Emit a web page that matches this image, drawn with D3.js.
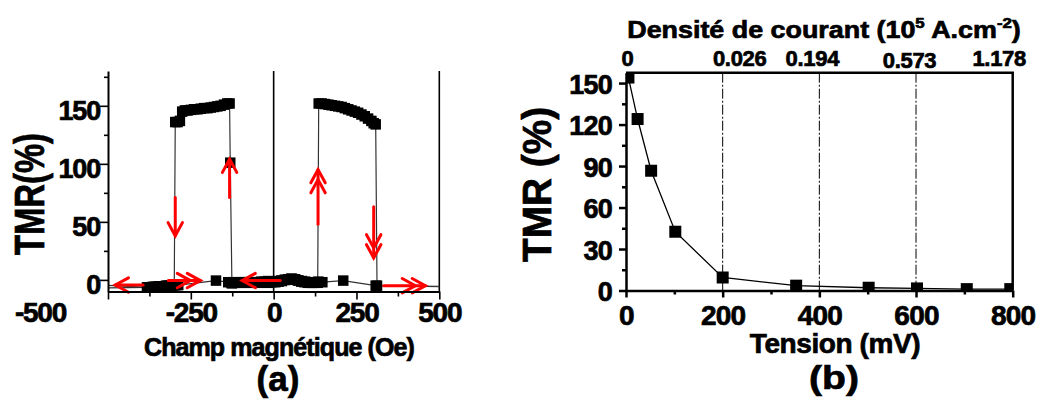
<!DOCTYPE html>
<html><head><meta charset="utf-8">
<script src="https://cdn.jsdelivr.net/npm/d3@7"></script>
<style>
html,body{margin:0;padding:0;background:#fff;}
svg text{font-family:"Liberation Sans",Arial,sans-serif;font-weight:bold;fill:#000;stroke:#000;stroke-width:0.7px;}
</style></head><body>
<svg id="c" width="1055" height="409"></svg>
<script>
// ---------- Panel (a) data: TMR vs magnetic field (hysteresis loop) ----------
// decreasing-field sweep (from +500 Oe to -500 Oe)
const fieldDown = [520, 308, 210, 147, 135, 125, 115, 105, 95, 85, 75, 65, 55, 45, 35, 25, 15, 5, -5, -15, -25, -35, -45, -55, -65, -75, -85, -95, -105, -115, -126,
  -131,
  -133, -140, -150, -160, -170, -180, -190, -200, -210, -220, -230, -240, -250, -260, -268, -276, -283, -290, -297,
  -300, -310, -320, -330, -340, -350, -360, -370, -382, -520];
const tmrDown = [-5.5, -5, -0.6, -2, -1.5, -2, -2.5, -2, -1.5, -1, -0.5, 0.5, 1, 0.5, 0, -1, -1.5, -2, -2, -2.5, -2, -2, -2.5, -2, -2, -2.5, -2, -2, -2.5, -2.5, -3,
  101,
  152, 152, 151, 150, 149.5, 149, 148.5, 148, 148, 147.5, 147, 147, 146.5, 146, 146, 145, 137, 136, 136,
  -4.5, -5, -5, -5.5, -5.5, -6, -6, -6.5, -6.5, -4.5];
// increasing-field sweep (from -500 Oe to +500 Oe)
const fieldUp = [-520, -382, -375, -365, -355, -345, -335, -325, -315, -305, -295, -288,
  -174,
  -137, -127, -117, -107, -97, -87, -77, -67, -57, -47, -37, -27, -17, -7, 3, 13, 23, 33, 43, 53, 63, 73, 83, 93, 103, 113, 123, 133,
  136, 145, 155, 165, 175, 185, 195, 205, 215, 225, 235, 245, 255, 265, 275, 285, 295, 302, 308,
  312, 520];
const tmrUp = [-7, -6.5, -6.5, -6, -6, -5.5, -5.5, -5, -5, -5, -4.5, -4.5,
  -0.6,
  -2, -2.5, -2, -2, -2.5, -2, -2, -2.5, -2, -2, -1.5, -1.5, -1, -1.5, -1.5, -1, -0.5, 0, 0.5, 1, 0.5, -0.5, -1.5, -2, -2.5, -2.5, -2.5, -2.5,
  152, 152, 151.5, 151, 150.5, 150, 149.5, 149, 148, 147, 146, 145, 144, 142.5, 141, 139, 137, 135, 134,
  -5, -6];
const fieldTicks = [-500, -250, 0, 250, 500];
const fieldMinorTicks = [-375, -125, 125, 375];
const tmrTicksA = [0, 50, 100, 150];
const tmrMinorTicksA = [25, 75, 125, 175];
// sweep-direction arrows: [x1, y1, x2 (head), y2 (head), number of heads]
const arrowsA = [
  [-394, -4.4, -478, -4.4, 1],
  [-318, -0.6, -221, -0.6, 2],
  [20, -0.6, -95, -0.6, 1],
  [332, -5, 458, -5, 2],
  [-297, 71, -297, 38, 1],
  [-133, 71, -133, 104, 1],
  [134, 48, 134, 95, 2],
  [302, 63, 302, 19, 2]
];

// ---------- Panel (b) data: TMR vs bias voltage ----------
const voltage = [5, 24, 52, 102, 200, 352, 502, 602, 705, 795];
const tmrB = [154, 124, 86.6, 42.5, 9.4, 3.5, 2, 1.5, 1, 1];
const voltTicks = [0, 200, 400, 600, 800];
const voltMinorTicks = [100, 300, 500, 700];
const tmrTicksB = [0, 30, 60, 90, 120, 150];
const tmrMinorTicksB = [15, 45, 75, 105, 135];
const densityAt = [0, 200, 400, 600, 800];
const densityLabels = ["0", "0.026", "0.194", "0.573", "1.178"];
const densityNudge = [1.5, 17, -7, -6.5, -13.5];
const guideVolts = [200, 400, 600];

const svg = d3.select("#c");

// ================= Panel (a) =================
const xA = d3.scaleLinear().domain([-500, 500]).range([108, 439.3]);
const yA = d3.scaleLinear().domain([-10, 180]).range([291.5, 71]);

svg.append("clipPath").attr("id", "clipA").append("rect")
  .attr("x", xA(-500)).attr("y", yA(180)).attr("width", xA(500) - xA(-500)).attr("height", yA(-10) - yA(180));

const gA = svg.append("g");
gA.append("line").attr("x1", xA(0)).attr("x2", xA(0)).attr("y1", yA(180)).attr("y2", yA(-10))
  .attr("stroke", "#000").attr("stroke-width", 1.6);
gA.append("line").attr("x1", xA(500)).attr("x2", xA(500)).attr("y1", yA(180)).attr("y2", yA(-10))
  .attr("stroke", "#000").attr("stroke-width", 1.6);

const plotA = gA.append("g").attr("clip-path", "url(#clipA)");
const lineA = d3.line().x(d => xA(d[0])).y(d => yA(d[1]));
const downPts = fieldDown.map((f, i) => [f, tmrDown[i]]);
const upPts = fieldUp.map((f, i) => [f, tmrUp[i]]);
[downPts, upPts].forEach(pts => {
  plotA.append("path").attr("d", lineA(pts)).attr("fill", "none").attr("stroke", "#333").attr("stroke-width", 1.2);
});
const sqA = 10.5;
[downPts, upPts].forEach(pts => {
  plotA.selectAll(null).data(pts).enter().append("rect")
    .attr("x", d => xA(d[0]) - sqA / 2).attr("y", d => yA(d[1]) - sqA / 2)
    .attr("width", sqA).attr("height", sqA).attr("fill", "#000");
});

const arrowG = gA.append("g").attr("stroke", "#ff0000").attr("stroke-width", 3).attr("fill", "none").attr("stroke-linecap", "round");
arrowsA.forEach(a => {
  const x1 = xA(a[0]), y1 = yA(a[1]), x2 = xA(a[2]), y2 = yA(a[3]);
  arrowG.append("line").attr("x1", x1).attr("y1", y1).attr("x2", x2).attr("y2", y2);
  const ang = Math.atan2(y2 - y1, x2 - x1);
  const L = 15, W = 0.5;
  for (let k = 0; k < a[4]; k++) {
    const tx = x2 - Math.cos(ang) * 10 * k, ty = y2 - Math.sin(ang) * 10 * k;
    const p1 = [tx - L * Math.cos(ang - W), ty - L * Math.sin(ang - W)];
    const p2 = [tx - L * Math.cos(ang + W), ty - L * Math.sin(ang + W)];
    arrowG.append("path").attr("d", `M${p1[0]},${p1[1]}L${tx},${ty}L${p2[0]},${p2[1]}`);
  }
});

const axXA = gA.append("g").attr("transform", `translate(0,${yA(-10)})`)
  .call(d3.axisBottom(xA).tickValues(fieldTicks).tickSize(8).tickSizeOuter(0).tickPadding(2.5).tickFormat(d => String(d)));
gA.append("g").attr("transform", `translate(0,${yA(-10)})`)
  .call(d3.axisBottom(xA).tickValues(fieldMinorTicks).tickSize(5).tickSizeOuter(0).tickFormat(""))
  .select(".domain").remove();
const axYA = gA.append("g").attr("transform", `translate(${xA(-500)},0)`)
  .call(d3.axisLeft(yA).tickValues(tmrTicksA).tickSize(8).tickSizeOuter(0).tickPadding(0).tickFormat(d => String(d)));
gA.append("g").attr("transform", `translate(${xA(-500)},0)`)
  .call(d3.axisLeft(yA).tickValues(tmrMinorTicksA).tickSize(4).tickSizeOuter(0).tickFormat(""))
  .select(".domain").remove();
axXA.selectAll("text").attr("font-size", 28).attr("font-family", null).attr("letter-spacing", -1.2);
axXA.selectAll(".tick").filter(d => d === -500).select("text").attr("dx", -68);
axYA.selectAll("text").attr("font-size", 27).attr("font-family", null).attr("dy", "0.52em").attr("letter-spacing", -1.2);

gA.append("text").attr("transform", "translate(279,356)").attr("text-anchor", "middle")
  .attr("font-size", 25).attr("letter-spacing", -0.9).text("Champ magnétique (Oe)");
gA.append("text").attr("transform", "translate(44,194) rotate(-90) scale(0.82,1.05)").attr("text-anchor", "middle")
  .attr("font-size", 40).attr("stroke-width", 1.2).text("TMR(%)");
gA.append("text").attr("x", 278).attr("y", 391).attr("text-anchor", "middle").attr("font-size", 35).text("(a)");

// ================= Panel (b) =================
const xB = d3.scaleLinear().domain([0, 800]).range([626, 1012.7]);
const yB = d3.scaleLinear().domain([0, 157.5]).range([290.5, 72.7]);

svg.append("clipPath").attr("id", "clipB").append("rect")
  .attr("x", xB(0)).attr("y", yB(157.5)).attr("width", xB(800) - xB(0)).attr("height", yB(0) - yB(157.5));

const gB = svg.append("g");
gB.selectAll(null).data(guideVolts).enter().append("line")
  .attr("x1", d => xB(d)).attr("x2", d => xB(d)).attr("y1", yB(157.5)).attr("y2", yB(0))
  .attr("stroke", "#000").attr("stroke-width", 1).attr("stroke-dasharray", "10,2,2,2");

const plotB = gB.append("g").attr("clip-path", "url(#clipB)");
const ptsB = voltage.map((v, i) => [v, tmrB[i]]);
plotB.append("path").attr("d", d3.line().x(d => xB(d[0])).y(d => yB(d[1]))(ptsB))
  .attr("fill", "none").attr("stroke", "#000").attr("stroke-width", 1.3);
const sqB = 12;
plotB.selectAll(null).data(ptsB).enter().append("rect")
  .attr("x", d => xB(d[0]) - sqB / 2).attr("y", d => yB(d[1]) - sqB / 2)
  .attr("width", sqB).attr("height", sqB).attr("fill", "#000");

gB.append("line").attr("x1", xB(0)).attr("x2", xB(800) + 1.25).attr("y1", yB(157.5)).attr("y2", yB(157.5))
  .attr("stroke", "#000").attr("stroke-width", 2.5);
gB.append("line").attr("x1", xB(800)).attr("x2", xB(800)).attr("y1", yB(157.5)).attr("y2", yB(0))
  .attr("stroke", "#000").attr("stroke-width", 2.5);

const axXB = gB.append("g").attr("transform", `translate(0,${yB(0)})`)
  .call(d3.axisBottom(xB).tickValues(voltTicks).tickSize(7).tickSizeOuter(0).tickPadding(7.5).tickFormat(d => String(d)));
gB.append("g").attr("transform", `translate(0,${yB(0)})`)
  .call(d3.axisBottom(xB).tickValues(voltMinorTicks).tickSize(4).tickSizeOuter(0).tickFormat(""))
  .select(".domain").remove();
const axYB = gB.append("g").attr("transform", `translate(${xB(0)},0)`)
  .call(d3.axisLeft(yB).tickValues(tmrTicksB).tickSize(7).tickSizeOuter(0).tickPadding(7).tickFormat(d => String(d)));
gB.append("g").attr("transform", `translate(0,0)`).attr("transform", `translate(${xB(0)},0)`)
  .call(d3.axisLeft(yB).tickValues(tmrMinorTicksB).tickSize(4).tickSizeOuter(0).tickFormat(""))
  .select(".domain").remove();
axXB.selectAll("text").attr("font-size", 28).attr("font-family", null).attr("letter-spacing", -0.8);
axYB.selectAll("text").attr("font-size", 27).attr("font-family", null).attr("dy", "0.37em").attr("letter-spacing", -0.8);

gB.selectAll(null).data(densityAt).enter().append("text")
  .attr("x", (d, i) => xB(d) + densityNudge[i]).attr("y", (d, i) => i === 3 ? 68 : 66)
  .attr("text-anchor", "middle").attr("font-size", 22).attr("letter-spacing", -0.3).text((d, i) => densityLabels[i]);

const title = gB.append("text").attr("transform", "translate(824,38) scale(1.12,1)").attr("text-anchor", "middle").attr("font-size", 24);
title.append("tspan").text("Densité de courant (10");
title.append("tspan").attr("font-size", 15).attr("dy", -10).text("5");
title.append("tspan").attr("dy", 10).text(" A.cm");
title.append("tspan").attr("font-size", 15).attr("dy", -10).text("-2");
title.append("tspan").attr("dy", 10).text(")");

gB.append("text").attr("x", 835).attr("y", 353).attr("text-anchor", "middle").attr("font-size", 28).attr("letter-spacing", -0.4).text("Tension (mV)");
gB.append("text").attr("transform", "translate(551,184.5) rotate(-90) scale(0.97,1)").attr("text-anchor", "middle")
  .attr("font-size", 40).attr("stroke-width", 1.2).text("TMR (%)");
gB.append("text").attr("transform", "translate(834,389) scale(1.15,1)").attr("text-anchor", "middle").attr("font-size", 34).text("(b)");

svg.selectAll(".domain").attr("stroke", "#000");
[axXA, axYA].forEach(g => g.select(".domain").attr("stroke-width", 2));
[axXB, axYB].forEach(g => g.select(".domain").attr("stroke-width", 2.5));
gA.selectAll(".tick line").attr("stroke-width", 1.6);
gB.selectAll(".tick line").attr("stroke-width", 2.5);
</script>
</body></html>
